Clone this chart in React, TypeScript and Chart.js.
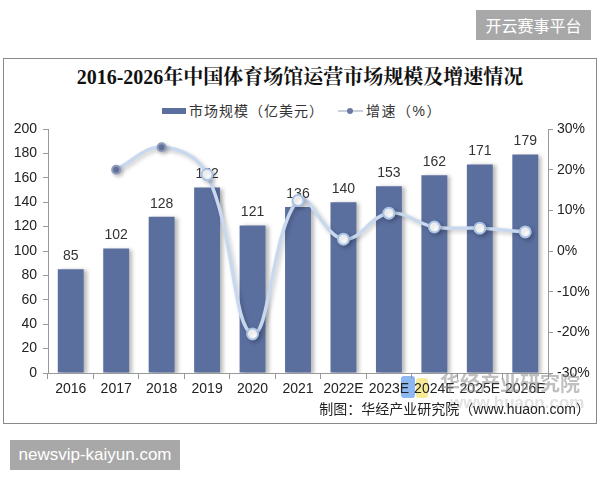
import React, { useEffect, useRef } from "react";
import { Chart, registerables } from "chart.js";

Chart.register(...registerables);

const categories = ["2016", "2017", "2018", "2019", "2020", "2021", "2022E", "2023E", "2024E", "2025E", "2026E"];
const marketSize = [85, 102, 128, 152, 121, 136, 140, 153, 162, 171, 179];
const growthRate: (number | null)[] = [null, 20.0, 25.5, 18.8, -20.4, 12.4, 2.9, 9.3, 5.9, 5.6, 4.7];
const filledPointIndexes = [1, 2];

const titleText = "2016-2026年中国体育场馆运营市场规模及增速情况";
const barLabel = "市场规模（亿美元）";
const lineLabel = "增速（%）";
const sourceText = "制图：华经产业研究院（www.huaon.com）";

const BAR_COLOR = "#5b6f9f";
const LINE_COLOR = "#c8d8ee";
const LATIN = "'Liberation Sans', Arial, 'Noto Sans CJK SC', sans-serif";

export default function App() {
  const canvasRef = useRef<HTMLCanvasElement | null>(null);

  useEffect(() => {
    const canvas = canvasRef.current;
    if (!canvas) return;

    const shadowPlugin = {
      id: "shadowAndLabels",
      beforeDatasetDraw(chart: any, args: any) {
        const ctx = chart.ctx;
        ctx.save();
        if (args.index === 0) {
          ctx.shadowColor = "rgba(0,0,0,0.28)";
          ctx.shadowBlur = 4;
          ctx.shadowOffsetX = 3;
          ctx.shadowOffsetY = 1;
        } else {
          ctx.shadowColor = "rgba(0,0,0,0.22)";
          ctx.shadowBlur = 4;
          ctx.shadowOffsetX = 2;
          ctx.shadowOffsetY = 2;
        }
      },
      afterDatasetDraw(chart: any, args: any) {
        const ctx = chart.ctx;
        ctx.restore();
        if (args.index === 0) {
          const meta = chart.getDatasetMeta(0);
          ctx.save();
          ctx.fillStyle = "#333";
          ctx.font = "14px " + LATIN;
          ctx.textAlign = "center";
          ctx.textBaseline = "middle";
          meta.data.forEach((bar: any, i: number) => {
            ctx.fillText(String(marketSize[i]), bar.x, bar.y - 13);
          });
          ctx.restore();
        }
      },
    };

    const chart = new Chart(canvas, {
      type: "bar",
      data: {
        labels: categories,
        datasets: [
          {
            type: "bar",
            label: barLabel,
            data: marketSize,
            backgroundColor: BAR_COLOR,
            borderWidth: 0,
            barPercentage: 0.57,
            categoryPercentage: 1,
            yAxisID: "y",
            order: 1,
          },
          {
            type: "line",
            label: lineLabel,
            data: growthRate,
            borderColor: LINE_COLOR,
            borderWidth: 3.5,
            tension: 0.4,
            yAxisID: "y1",
            order: 0,
            pointRadius: growthRate.map((_, i) => (filledPointIndexes.includes(i) ? 4 : 5.5)),
            pointBackgroundColor: growthRate.map((_, i) => (filledPointIndexes.includes(i) ? "#6a7aa3" : "#ffffff")),
            pointBorderColor: growthRate.map((_, i) => (filledPointIndexes.includes(i) ? "#8c9bbd" : "#aac3e6")),
            pointBorderWidth: 2,
          } as any,
        ],
      },
      options: {
        responsive: false,
        animation: false,
        devicePixelRatio: 1,
        layout: { padding: { top: 129, left: 0, right: 0, bottom: 0 } },
        plugins: {
          legend: { display: false },
          title: { display: false },
          tooltip: { enabled: false },
        },
        scales: {
          x: {
            grid: { display: true, drawOnChartArea: false, drawTicks: true, tickLength: 6, color: "#999", offset: true },
            border: { color: "#999" },
            ticks: { color: "#222", font: { size: 14, family: LATIN }, padding: 2, maxRotation: 0, autoSkip: false },
            afterFit: (s: any) => {
              s.height = 107;
            },
          },
          y: {
            position: "left",
            min: 0,
            max: 200,
            ticks: { stepSize: 20, color: "#222", font: { size: 14, family: LATIN }, padding: 6 },
            grid: { drawOnChartArea: false, tickLength: 5, color: "#999" },
            border: { color: "#999" },
            afterFit: (s: any) => {
              s.width = 48;
            },
          },
          y1: {
            position: "right",
            min: -30,
            max: 30,
            ticks: {
              stepSize: 10,
              color: "#222",
              font: { size: 14, family: LATIN },
              padding: 4,
              callback: (v: any) => v + "%",
            },
            grid: { drawOnChartArea: false, tickLength: 5, color: "#999" },
            border: { color: "#999" },
            afterFit: (s: any) => {
              s.width = 52;
            },
          },
        },
      },
      plugins: [shadowPlugin],
    } as any);

    return () => chart.destroy();
  }, []);

  const cjk = "'Liberation Sans', 'Noto Sans CJK SC', sans-serif";

  return (
    <div style={{ position: "absolute", left: 0, top: 0, width: 600, height: 480, background: "#fff", overflow: "hidden" }}>
      {/* top-right badge */}
      <div
        style={{
          position: "absolute",
          left: 476,
          top: 10,
          width: 115,
          height: 30,
          background: "#a8a8a8",
          color: "#fff",
          fontFamily: "'Noto Sans CJK SC', sans-serif",
          fontSize: 16,
          lineHeight: "30px",
          textAlign: "center",
        }}
      >
        开云赛事平台
      </div>
      {/* frame */}
      <div
        style={{
          position: "absolute",
          left: 3,
          top: 58,
          width: 594,
          height: 366,
          border: "1px solid #8a8a8a",
          boxSizing: "border-box",
        }}
      />
      {/* title */}
      <div
        style={{
          position: "absolute",
          left: 0,
          top: 65,
          width: 600,
          textAlign: "center",
          fontFamily: "'Liberation Serif', 'Noto Serif CJK SC', 'Noto Sans CJK SC', serif",
          fontWeight: "bold",
          fontSize: 20,
          lineHeight: "24px",
          color: "#111",
        }}
      >
        {titleText}
      </div>
      {/* legend */}
      <div style={{ position: "absolute", left: 162, top: 108, width: 24, height: 6, background: BAR_COLOR }} />
      <div
        style={{
          position: "absolute",
          left: 189,
          top: 101,
          fontFamily: cjk,
          fontSize: 14,
          lineHeight: "20px",
          letterSpacing: 1,
          color: "#333",
          whiteSpace: "nowrap",
        }}
      >
        {barLabel}
      </div>
      <div style={{ position: "absolute", left: 338, top: 110, width: 25, height: 2, background: "#c9d0dc" }} />
      <div
        style={{
          position: "absolute",
          left: 347,
          top: 108,
          width: 6,
          height: 6,
          borderRadius: 3,
          background: "#6a7aa3",
        }}
      />
      <div
        style={{
          position: "absolute",
          left: 366,
          top: 101,
          fontFamily: cjk,
          fontSize: 14,
          lineHeight: "20px",
          letterSpacing: 1.5,
          color: "#333",
          whiteSpace: "nowrap",
        }}
      >
        {lineLabel}
      </div>
      {/* color artifacts near x labels */}
      <div style={{ position: "absolute", left: 401, top: 376, width: 14, height: 22, background: "rgba(120,170,240,0.85)", borderRadius: 3 }} />
      <div style={{ position: "absolute", left: 416, top: 378, width: 12, height: 20, background: "rgba(245,232,140,0.9)", borderRadius: 3 }} />
      {/* watermark */}
      <div
        style={{
          position: "absolute",
          left: 440,
          top: 370,
          fontFamily: "'Noto Sans CJK SC', sans-serif",
          fontWeight: "bold",
          fontSize: 20,
          lineHeight: "26px",
          color: "rgba(140,140,140,0.55)",
          whiteSpace: "nowrap",
          zIndex: 2,
        }}
      >
        华经产业研究院
      </div>
      <div
        style={{
          position: "absolute",
          left: 450,
          top: 393,
          fontFamily: LATIN,
          fontWeight: "bold",
          fontSize: 17,
          lineHeight: "20px",
          color: "rgba(160,160,160,0.3)",
          whiteSpace: "nowrap",
          zIndex: 2,
        }}
      >
        www.huaon.com
      </div>
      {/* chart */}
      <canvas ref={canvasRef} width={600} height={480} style={{ position: "absolute", left: 0, top: 0, width: 600, height: 480, zIndex: 1 }} />
      {/* source */}
      <div
        style={{
          position: "absolute",
          right: 10,
          top: 399,
          fontFamily: cjk,
          fontSize: 14,
          lineHeight: "20px",
          color: "#222",
          whiteSpace: "nowrap",
          zIndex: 3,
        }}
      >
        {sourceText}
      </div>
      {/* bottom-left badge */}
      <div
        style={{
          position: "absolute",
          left: 10,
          top: 440,
          width: 170,
          height: 30,
          background: "#a8a8a8",
          color: "#fff",
          fontFamily: LATIN,
          fontSize: 17,
          lineHeight: "30px",
          textAlign: "center",
          whiteSpace: "nowrap",
        }}
      >
        newsvip-kaiyun.com
      </div>
    </div>
  );
}
